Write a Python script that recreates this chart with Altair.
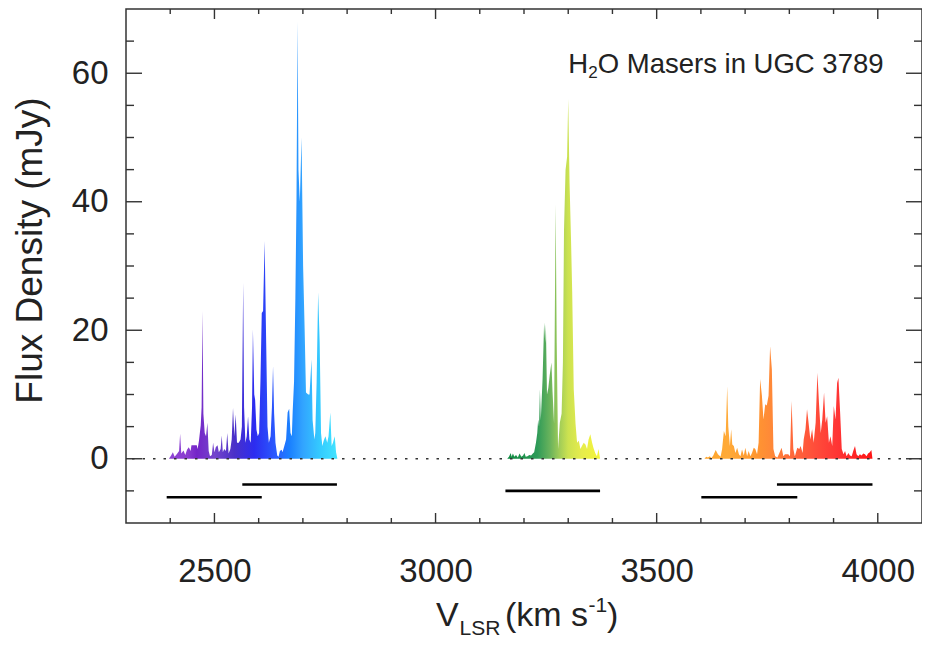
import altair as alt
import pandas as pd

# ---------------- data ----------------
seg1_v = [2397, 2402, 2406, 2410, 2416, 2420, 2422.4, 2425, 2430, 2434, 2438, 2442, 2446, 2448, 2460, 2462,
          2465, 2469, 2471, 2473, 2475, 2478, 2481, 2484, 2487, 2490, 2494, 2497, 2500, 2503, 2507, 2510,
          2514, 2516.5, 2519, 2522, 2526, 2529, 2532, 2536, 2539, 2542, 2545, 2548, 2551, 2555, 2559, 2562,
          2565, 2567, 2570, 2573, 2576, 2579, 2582, 2585, 2587, 2590, 2592, 2595, 2598, 2601, 2604, 2607,
          2610, 2613.5, 2617, 2620, 2623, 2627, 2630, 2632.5, 2635, 2638, 2642, 2645, 2648, 2652, 2654, 2658,
          2662, 2665.5, 2669, 2672, 2675, 2677, 2680, 2683, 2685.5, 2688, 2690, 2693, 2697, 2700.5, 2704,
          2707, 2712, 2715, 2719.5, 2722, 2726, 2728, 2731, 2734.5, 2738, 2741, 2744, 2747, 2751, 2755,
          2758, 2762, 2765, 2768, 2772, 2775, 2778]
seg1_f = [0, 0.5, 1.0, 0.3, 0.8, 1.2, 3.9, 0.8, 1.3, 0.6, 1.4, 1.8, 1.2, 2.1, 2.1, 1.5,
          2.8, 5.2, 8, 23, 7, 4.0, 3.5, 5.6, 1.2, 0.4, 0.6, 2.5, 1.0, 1.8, 2.1, 1.0,
          1.5, 3.6, 1.0, 1.5, 1.2, 4.0, 0.8, 1.5, 3, 7.9, 3.5, 6.9, 2.5, 2.5, 3.0, 5,
          27.4, 8, 2.5, 3.5, 6.6, 3, 2.5, 8, 20.1, 10, 9.2, 4.5, 3.5, 4, 12, 22.7,
          23, 33.9, 18, 5, 2.5, 3.5, 8, 14.4, 7, 2.5, 0.5, 0.3, 1.2, 1.4, 1.0, 2.0,
          3, 7.2, 7.8, 4, 3.5, 7.5, 12, 25, 40, 68, 45, 40, 50, 30, 20,
          10.3, 10.0, 10.0, 15.5, 6, 3, 4, 11.8, 25.9, 18, 4, 2, 2.8, 3.5, 2.5,
          3.5, 7.2, 2.0, 2.5, 3.5, 1.0, 0]

seg2_v = [3162, 3166, 3170, 3172, 3175, 3178, 3182, 3186, 3190, 3194, 3198, 3201, 3204, 3208, 3212, 3216,
          3220, 3223, 3227, 3230, 3232, 3234, 3236, 3238, 3242, 3245.5, 3248, 3249.5, 3252, 3255, 3258,
          3262, 3264.5, 3268, 3271.5, 3274, 3277, 3281, 3285, 3288, 3290.5, 3294, 3297.5, 3300, 3303,
          3306.5, 3309, 3312.5, 3316.5, 3320, 3324, 3327.5, 3331, 3335, 3339, 3342.5, 3346, 3350, 3354,
          3357, 3361, 3365, 3368.5, 3372]
seg2_f = [0, 0.3, 0.9, 0.3, 0.8, 0.3, 0.6, 0.2, 0.8, 0.3, 0.5, 0.9, 0.3, 0.4, 0.6, 0.5,
          0.8, 1.0, 2.5, 4, 6.1, 5, 10.8, 6, 12.4, 21.2, 18, 20.9, 10, 11, 12.9,
          15, 10.5, 5.5, 39.6, 18, 1.5, 5.6, 7, 15, 35.7, 45, 47, 56, 43,
          33.6, 26, 10.8, 5.5, 2.5, 2.8, 1.5, 2.0, 2.5, 2.2, 1.5, 3.0, 3.8, 2.5,
          1.7, 0.9, 0.4, 1.5, 0]

seg3_v = [3608, 3612, 3616, 3620, 3624, 3628, 3633.5, 3638.5, 3644.5, 3648, 3652, 3656, 3659.5, 3662,
          3665.5, 3668.5, 3671, 3674.5, 3678, 3682, 3686, 3689.5, 3693, 3697, 3700.5, 3704.5, 3708, 3712,
          3715.5, 3719.5, 3723, 3727, 3730.5, 3734, 3738, 3741.5, 3745.5, 3749, 3753, 3756.5, 3760.5, 3764,
          3768, 3773, 3777.5, 3782.5, 3786.5, 3790, 3797.5, 3801.5, 3805, 3809, 3812.5, 3818, 3822.5,
          3825.5, 3830, 3832.5, 3836.5, 3840, 3843, 3847.5, 3851.5, 3855, 3859.5, 3863.5, 3867, 3871,
          3874.5, 3878.5, 3882, 3885.5, 3889.5, 3893, 3897, 3900.5, 3904.5, 3908, 3911, 3915, 3918.5,
          3922.5, 3926, 3929.5, 3933.5, 3937, 3941, 3944.5, 3948.5, 3952, 3956, 3959.5, 3963.5, 3967,
          3971, 3974.5, 3978, 3982, 3985.5, 3988]
seg3_f = [0, 0.3, 0.2, 0.4, 0.1, 0.5, 1.35, 0.7, 0.3, 1.5, 4.3, 3.5, 11.3, 5,
          2.0, 4.6, 2.2, 2.0, 0.9, 1.7, 0.7, 0.4, 1.45, 0.5, 1.7, 0.4, 1.2, 0.4,
          0.9, 1.7, 1.5, 0.7, 2.5, 12.4, 9.8, 6.1, 8.5, 8.3, 9.8, 17.5, 13.9, 1.5,
          0.4, 0.2, 0.9, 1.7, 0.4, 0.7, 0.7, 0.4, 9, 1.5, 0.4, 1.7, 1.5,
          2.0, 0.9, 3.0, 4.6, 7.7, 5.9, 3.0, 4.6, 2.5, 5.6, 13.4, 8.7, 4.0,
          6.1, 10.3, 5.6, 6.6, 2.5, 3.5, 2.0, 8.2, 6.1, 11.8, 12.6, 7.0, 1.5,
          0.7, 1.2, 0.4, 0.9, 0.5, 0.4, 1.2, 2.0, 0.7, 0.4, 0.7, 0.5, 0.8,
          0.7, 0.4, 0.8, 1.0, 1.35, 0]

# colour stops along velocity for each segment
seg1_stop_v = [2397, 2440, 2460, 2500, 2545, 2590, 2640, 2670, 2700, 2740, 2778]
seg1_stop_c = ["#8e44d4", "#8a3cd0", "#7424c8", "#7444cc", "#4a30c8", "#2c2cf0",
               "#2a5cff", "#1a80ff", "#32a4ff", "#34ccff", "#44e4ff"]
seg2_stop_v = [3162, 3230, 3260, 3280, 3300, 3330, 3372]
seg2_stop_c = ["#0e8a40", "#2e9a58", "#6cb45c", "#a0cc58", "#cce250", "#e6ec4c", "#f4f43a"]
seg3_stop_v = [3608, 3660, 3720, 3760, 3800, 3860, 3910, 3988]
seg3_stop_c = ["#ffa428", "#ffaa38", "#ff9830", "#ff8838", "#ff6c3a", "#ff4c3a", "#ff3434", "#ff1414"]

# bandpass coverage bars
bar_start = [2392, 2563, 3158, 3601, 3772]
bar_end = [2607, 2777, 3372, 3818, 3988]
bar_level = [-6, -4, -5, -6, -4]

x_label_values = [2500, 3000, 3500, 4000]
x_minor_ticks = [2400, 2600, 2700, 2800, 2900, 3100, 3200, 3300, 3400, 3600, 3700, 3800, 3900]
y_label_values = [0, 20, 40, 60]
y_minor_ticks = [-5, 5, 10, 15, 25, 30, 35, 45, 50, 55, 65]

annot_v = [3300]
annot_f = [60]
annot_parts = ["H", "2", "O Masers in UGC 3789"]
xtitle_parts = ["V", "LSR", "(km s", "-1", ")"]
ytitle = "Flux Density (mJy)"

# ---------------- chart ----------------
FONT = "Liberation Sans"
TXT = "#222222"
W, H = 796, 514

xscale = alt.Scale(domain=[2300, 4100], nice=False, zero=False)
yscale = alt.Scale(domain=[-10, 70], nice=False, zero=False)
xaxis = alt.Axis(values=x_label_values, format="d", title=None, labelPadding=32,
                 labelFontSize=33, labelFont=FONT, labelColor=TXT)
yaxis = alt.Axis(values=y_label_values, format="d", title=ytitle, labelPadding=18,
                 labelFontSize=33, labelFont=FONT, labelColor=TXT,
                 titleFont=FONT, titleFontSize=37, titleColor=TXT, titleFontWeight="normal",
                 titleX=-85, titleY=241, titleAngle=270, titleBaseline="alphabetic",
                 titleAlign="center")


def XF(field="v"):
    return alt.X(f"{field}:Q", scale=xscale, axis=xaxis)


def YF(field="f"):
    return alt.Y(f"{field}:Q", scale=yscale, axis=yaxis)


def seg_layer(v, f, sv, sc):
    vmin, vmax = min(v), max(v)
    stops = [alt.GradientStop(offset=max(0.0, min(1.0, (a - vmin) / (vmax - vmin))), color=c)
             for a, c in zip(sv, sc)]
    grad = alt.LinearGradient(gradient="linear", stops=stops, x1=0, x2=1, y1=0, y2=0)
    df = pd.DataFrame({"v": v, "f": f})
    return alt.Chart(df).mark_area(color=grad, interpolate="linear").encode(
        x=XF(), y=YF(), y2=alt.datum(0))


layers = [
    seg_layer(seg1_v, seg1_f, seg1_stop_v, seg1_stop_c),
    seg_layer(seg2_v, seg2_f, seg2_stop_v, seg2_stop_c),
    seg_layer(seg3_v, seg3_f, seg3_stop_v, seg3_stop_c),
]

# zero line (dotted)
layers.append(alt.Chart(pd.DataFrame({"f": [0]})).mark_rule(
    color="#333333", strokeWidth=1.5, strokeDash=[2.5, 8]).encode(y=YF()))

# bandpass bars
bars = pd.DataFrame({"v": bar_start, "v2": bar_end, "f": bar_level})
layers.append(alt.Chart(bars).mark_rule(color="#000000", strokeWidth=2.6).encode(
    x=XF(), x2="v2:Q", y=YF()))

# inward ticks on all four sides
TK = "#333333"
xmaj = pd.DataFrame({"v": x_label_values})
xmin = pd.DataFrame({"v": x_minor_ticks})
ymaj = pd.DataFrame({"f": y_label_values})
ymin = pd.DataFrame({"f": y_minor_ticks})
for df, ln in [(xmaj, 10), (xmin, 5)]:
    layers.append(alt.Chart(df).mark_rule(color=TK, strokeWidth=1.4).encode(
        x=XF(), y=alt.value(H), y2=alt.value(H - ln)))
    layers.append(alt.Chart(df).mark_rule(color=TK, strokeWidth=1.4).encode(
        x=XF(), y=alt.value(0), y2=alt.value(ln)))
for df, ln in [(ymaj, 16), (ymin, 8)]:
    layers.append(alt.Chart(df).mark_rule(color=TK, strokeWidth=1.4).encode(
        y=YF(), x=alt.value(0), x2=alt.value(ln)))
    layers.append(alt.Chart(df).mark_rule(color=TK, strokeWidth=1.4).encode(
        y=YF(), x=alt.value(W), x2=alt.value(W - ln)))

# annotation "H2O Masers in UGC 3789" anchored at data coordinates
ann = pd.DataFrame({"v": annot_v, "f": annot_f})
for txt, dx, dy, fs in [(annot_parts[0], 0, 0, 27.5), (annot_parts[1], 20, 4.5, 17),
                        (annot_parts[2], 29.5, 0, 27.5)]:
    layers.append(alt.Chart(ann).mark_text(
        text=txt, align="left", baseline="alphabetic", dx=dx, dy=dy,
        font=FONT, fontSize=fs, color=TXT).encode(x=XF(), y=YF()))

# x axis title with subscript / superscript
one = pd.DataFrame({"a": [0]})
for txt, px, py, fs in [(xtitle_parts[0], 310, 617, 34), (xtitle_parts[1], 333.5, 626, 21),
                        (xtitle_parts[2], 379, 617, 34), (xtitle_parts[3], 462.5, 603, 21),
                        (xtitle_parts[4], 481, 617, 34)]:
    layers.append(alt.Chart(one).mark_text(
        text=txt, align="left", baseline="alphabetic", font=FONT, fontSize=fs, color=TXT
    ).encode(x=alt.value(px), y=alt.value(py)))

chart = alt.layer(*layers).properties(
    width=W, height=H,
    padding={"left": 118, "top": 1, "right": 0, "bottom": 115},
    autosize=alt.AutoSizeParams(type="none"),
).configure_view(stroke="#333333", strokeWidth=1.5).configure_axis(
    grid=False, domain=False, ticks=False, tickSize=0
)

chart.save("out.html", embed_options={"renderer": "svg", "actions": False})
